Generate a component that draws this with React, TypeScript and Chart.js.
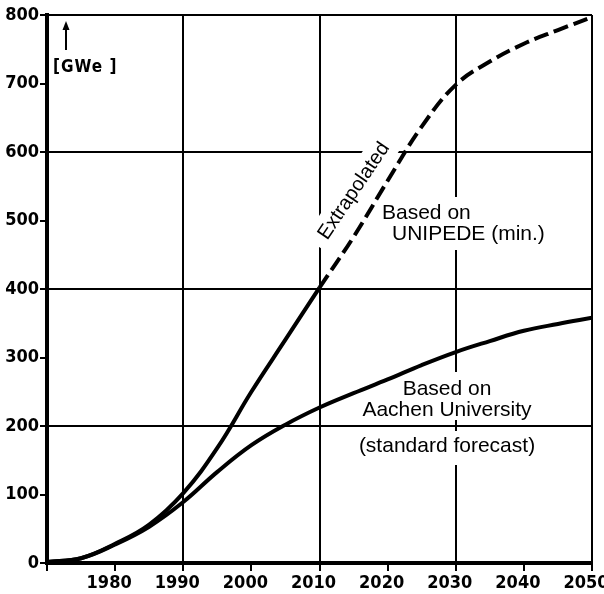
import { useEffect, useRef } from 'react';
import { Chart, registerables } from 'chart.js';

Chart.register(...registerables);

// ---- data ----
const years = [1970, 1975, 1980, 1985, 1990, 1995, 2000, 2005, 2010, 2015, 2020, 2025, 2030, 2035, 2040, 2045, 2050];
const unipedeGWe = [1.5, 7, 28, 56, 102, 168, 250, 326, 402, 476, 558, 637, 698, 732, 758, 778, 797];
const aachenGWe = [1.5, 7, 27, 53, 89, 133, 172, 202, 227, 248, 268, 289, 308, 324, 339, 349, 358];
const extrapolatedFromYear = 2010;

const unitLabel = '[GWe ]';
const extrapolatedLabel = 'Extrapolated';
const unipedeLabel = ['Based on', 'UNIPEDE (min.)'];
const aachenLabel = ['Based on', 'Aachen University'];
const aachenNote = '(standard forecast)';

const tickFont = { family: '"DejaVu Sans Condensed", "DejaVu Sans", sans-serif', size: 18, weight: 'bold' as const };
const textFont = '21px "Liberation Sans", Arial, sans-serif';

const annotations = {
  id: 'annotations',
  beforeDatasetsDraw(chart: any) {
    const ctx = chart.ctx as CanvasRenderingContext2D;
    ctx.save();
    // white boxes behind texts (gaps in grid lines)
    ctx.fillStyle = '#fff';
    ctx.fillRect(378, 197, 162, 53);
    ctx.fillRect(356, 372, 182, 48);
    ctx.fillRect(352, 431, 188, 34);

    // Extrapolated (rotated)
    ctx.save();
    ctx.translate(354, 191);
    ctx.rotate((-56 * Math.PI) / 180);
    ctx.fillStyle = '#fff';
    ctx.fillRect(-66, -15, 140, 30);
    ctx.fillStyle = '#000';
    ctx.font = '20px "Liberation Sans", Arial, sans-serif';
    ctx.textAlign = 'center';
    ctx.textBaseline = 'middle';
    ctx.fillText(extrapolatedLabel, 0, 0);
    ctx.restore();

    ctx.fillStyle = '#000';
    ctx.font = textFont;
    ctx.textBaseline = 'alphabetic';
    ctx.textAlign = 'left';
    ctx.fillText(unipedeLabel[0], 382, 219);
    ctx.fillText(unipedeLabel[1], 392, 240);

    ctx.textAlign = 'center';
    ctx.fillText(aachenLabel[0], 447, 395);
    ctx.fillText(aachenLabel[1], 447, 416);
    ctx.fillText(aachenNote, 447, 452);

    // unit label with arrow
    ctx.strokeStyle = '#000';
    ctx.lineWidth = 2;
    ctx.beginPath();
    ctx.moveTo(66, 50);
    ctx.lineTo(66, 28);
    ctx.stroke();
    ctx.beginPath();
    ctx.moveTo(66, 21);
    ctx.lineTo(62.5, 30);
    ctx.lineTo(69.5, 30);
    ctx.closePath();
    ctx.fill();

    ctx.textAlign = 'left';
    ctx.font = 'bold 17px "DejaVu Sans Condensed", "DejaVu Sans", sans-serif';
    (ctx as any).letterSpacing = '1px';
    ctx.fillText(unitLabel, 53, 72);
    ctx.restore();
  },
};

export default function App() {
  const ref = useRef<HTMLCanvasElement | null>(null);

  useEffect(() => {
    document.body.style.margin = '0';
    const canvas = ref.current;
    if (!canvas) return;

    const chart = new Chart(canvas, {
      type: 'line',
      data: {
        datasets: [
          {
            label: 'UNIPEDE (min.)',
            data: years.map((x, i) => ({ x, y: unipedeGWe[i] })),
            borderColor: '#000',
            borderWidth: 4,
            pointRadius: 0,
            tension: 0.4,
            fill: false,
            segment: {
              borderDash: (c: any) => (c.p0.parsed.x >= extrapolatedFromYear ? [15, 6] : undefined),
            },
          },
          {
            label: 'Aachen University',
            data: years.map((x, i) => ({ x, y: aachenGWe[i] })),
            borderColor: '#000',
            borderWidth: 4,
            pointRadius: 0,
            tension: 0.4,
            fill: false,
          },
        ],
      },
      options: {
        responsive: false,
        animation: false,
        layout: { padding: { top: 15, right: 12, left: 0, bottom: 0 } },
        plugins: { legend: { display: false }, tooltip: { enabled: false } },
        scales: {
          x: {
            type: 'linear',
            min: 1970,
            max: 2050,
            afterFit: (s: any) => {
              s.height = 31;
              s.paddingLeft = 0;
              s.paddingRight = 0;
            },
            ticks: {
              stepSize: 10,
              autoSkip: false,
              maxRotation: 0,
              color: '#000',
              font: tickFont,
              padding: 2,
              labelOffset: -6,
              callback: (v: any) => (v === 1970 ? '' : String(v)),
            },
            grid: {
              color: (c: any) => ((c.tick && (c.tick.value - 1970) % 20 === 0 && c.tick.value !== 1970) ? '#000' : 'rgba(0,0,0,0)'),
              tickColor: '#000',
              lineWidth: 2,
              tickWidth: 2,
              tickLength: 8,
            },
            border: { color: '#000', width: 4 },
          },
          y: {
            min: 0,
            max: 800,
            afterFit: (s: any) => {
              s.width = 47;
              s.paddingTop = 0;
              s.paddingBottom = 0;
            },
            ticks: {
              stepSize: 100,
              color: '#000',
              font: tickFont,
              padding: 1,
            },
            grid: {
              color: (c: any) => ((c.tick && c.tick.value % 200 === 0) ? '#000' : 'rgba(0,0,0,0)'),
              tickColor: '#000',
              lineWidth: 2,
              tickWidth: 2,
              tickLength: 7,
            },
            border: { color: '#000', width: 4 },
          },
        },
      },
      plugins: [annotations],
    });

    return () => chart.destroy();
  }, []);

  return <canvas ref={ref} width={604} height={594} style={{ display: 'block', width: 604, height: 594 }} />;
}
